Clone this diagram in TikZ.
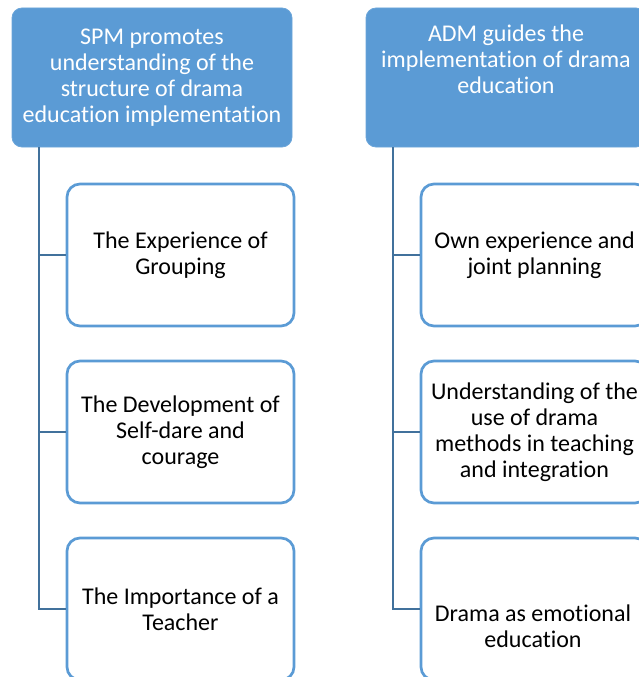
\documentclass[tikz,border=0pt]{standalone}
\usepackage{fontspec}
\setmainfont{Carlito}[Ligatures={NoCommon}]
\definecolor{hdrfill}{HTML}{5B9BD5}
\definecolor{boxline}{HTML}{5B9BD5}
\definecolor{connline}{HTML}{41719C}
\begin{document}
\begin{tikzpicture}[x=1pt,y=-1pt,
  every node/.style={font=\fontsize{24}{26}\selectfont, align=center, inner sep=0pt},
  hdr/.style={draw=hdrfill!90!white, line width=0.8pt, fill=hdrfill, rounded corners=10pt, minimum width=280pt, minimum height=139pt, text=white},
  hdrtext/.style={text=white},
  childbox/.style={draw=boxline, line width=2.7pt, fill=white, rounded corners=13pt, minimum width=227pt, minimum height=142pt, text=black},
  conn/.style={draw=connline, line width=2.8pt}]
\useasboundingbox (0,0) rectangle (638,677);
% headers
\node[hdr] (h1) at (152,77.5) {SPM promotes\\understanding of the\\structure of drama\\education implementation};
\node[hdr] (h2) at (506,77.5) {};
\node[hdrtext] (h2t) at (506,59) {ADM guides the\\implementation of drama\\education};
% left children
\node[childbox] (c11) at (180.5,255) {The Experience of\\Grouping};
\node[childbox] (c12) at (180.5,432) {The Development of\\Self-dare and\\courage};
\node[childbox] (c13) at (180.5,609) {The Importance of a\\Teacher};
% right children
\node[childbox] (c21) at (534.5,255) {Own experience and\\joint planning};
\node[childbox] (c22) at (534.5,432) {Understanding of the\\use of drama\\methods in teaching\\and integration};
\node[childbox] (c23) at (534.5,609) {};
\node (c23t) at (533,626) {Drama as emotional\\education};
% connectors
\coordinate (v1) at (39,147);
\coordinate (v2) at (393,147);
\draw[conn] (v1) |- (c13.west);
\draw[conn] (v1 |- c11.west) -- (c11.west);
\draw[conn] (v1 |- c12.west) -- (c12.west);
\draw[conn] (v2) |- (c23.west);
\draw[conn] (v2 |- c21.west) -- (c21.west);
\draw[conn] (v2 |- c22.west) -- (c22.west);
\end{tikzpicture}
\end{document}
